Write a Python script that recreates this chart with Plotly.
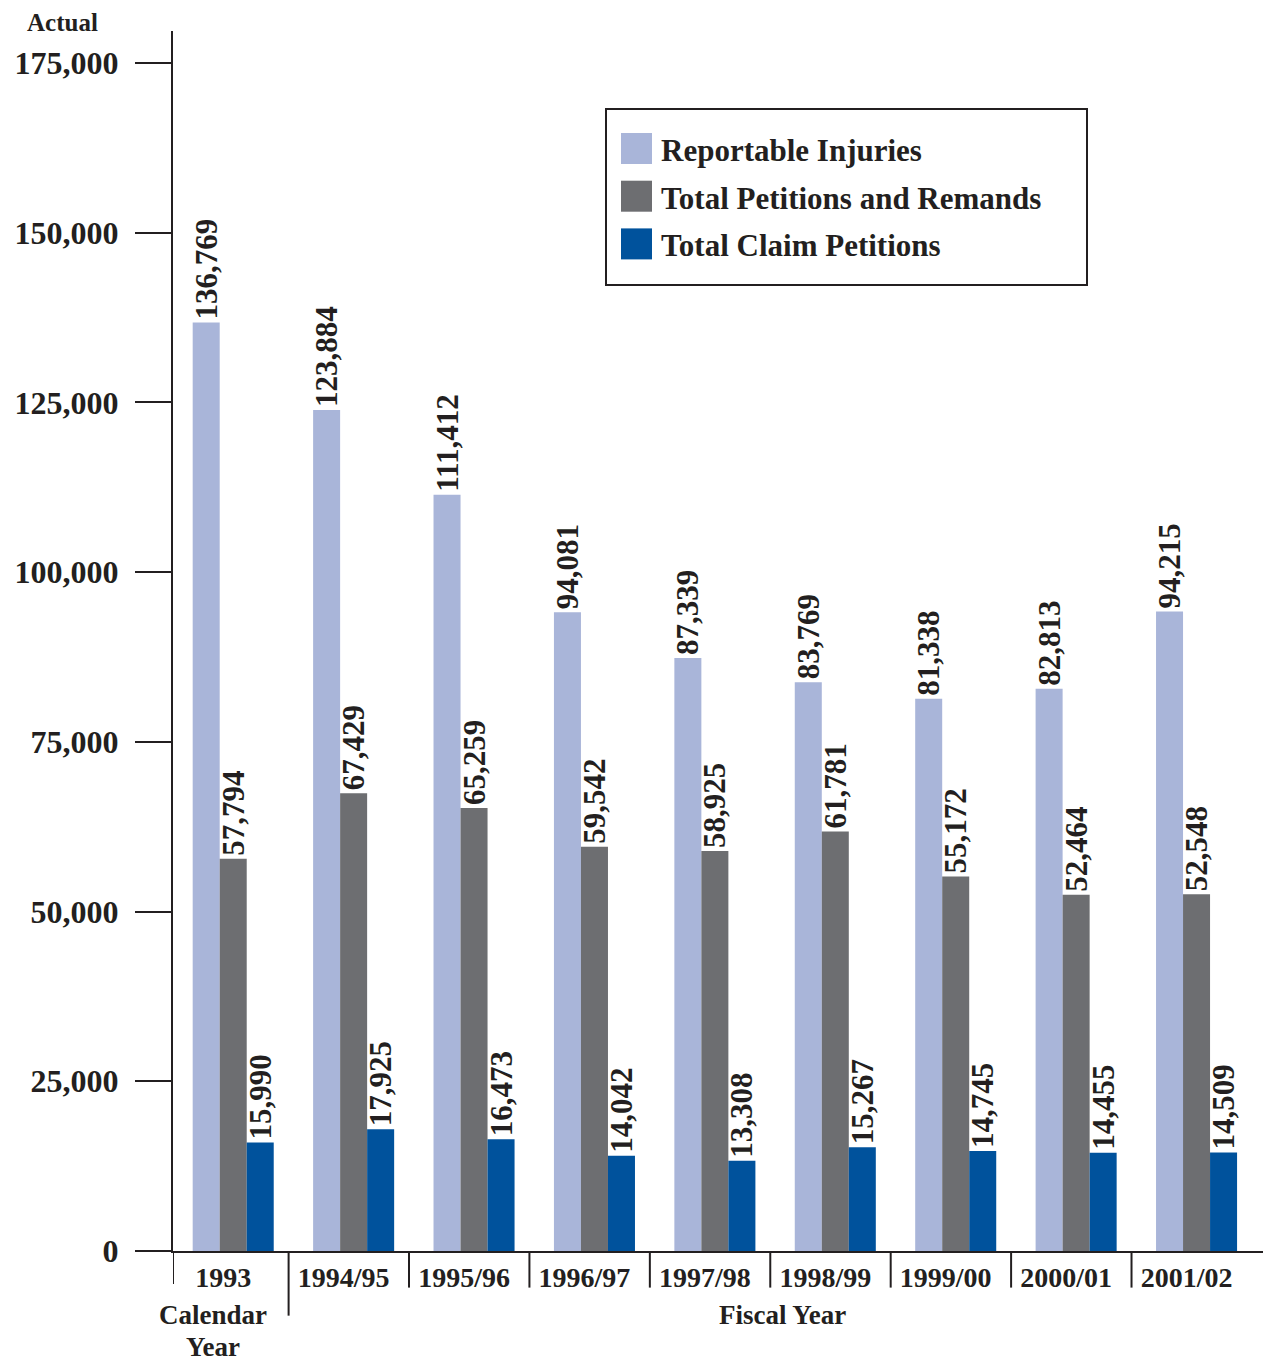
import plotly.graph_objects as go

categories = ["1993", "1994/95", "1995/96", "1996/97", "1997/98", "1998/99", "1999/00", "2000/01", "2001/02"]
series_names = ["Reportable Injuries", "Total Petitions and Remands", "Total Claim Petitions"]
reportable_injuries = [136769, 123884, 111412, 94081, 87339, 83769, 81338, 82813, 94215]
total_petitions_remands = [57794, 67429, 65259, 59542, 58925, 61781, 55172, 52464, 52548]
total_claim_petitions = [15990, 17925, 16473, 14042, 13308, 15267, 14745, 14455, 14509]
y_tick_values = [0, 25000, 50000, 75000, 100000, 125000, 150000, 175000]

colors = ["#A9B5D9", "#6D6E71", "#00529C"]
ink = "#231F20"
FONT = "Liberation Serif"

# the page body adds an 8px offset; layout is expressed so that the plot lands at
# screen x 173..1270, y 31..1251
OFF = 8
W, H = 1271 - OFF, 1362 - OFF
L, T = 173 - OFF, 31 - OFF
PW, PH = 1097, 1220
R = W - L - PW
B = H - T - PH

fig = go.Figure()
for name, vals, col in zip(series_names, [reportable_injuries, total_petitions_remands, total_claim_petitions], colors):
    fig.add_trace(go.Bar(
        x=categories, y=vals, name=name, marker=dict(color=col, line=dict(width=0)),
        text=[f"{v:,}" for v in vals], textposition="outside", textangle=-90,
        constraintext="none", cliponaxis=False,
        textfont=dict(family=FONT, size=31, color=ink, weight="bold"),
        showlegend=False,
    ))

fig.update_layout(
    width=W, height=H,
    margin=dict(l=L, r=R, t=T, b=B, autoexpand=False),
    paper_bgcolor="white", plot_bgcolor="white",
    barmode="group", bargap=0.327, bargroupgap=0,
    font=dict(family=FONT, color=ink, weight="bold"),
    xaxis=dict(
        type="category", range=[-0.5, 8.61], showgrid=False, zeroline=False,
        showline=True, linecolor=ink, linewidth=2, ticks="",
        tickfont=dict(family=FONT, size=28, color=ink, weight="bold"),
        ticklabelshift=-10, ticklabelstandoff=0,
    ),
    yaxis=dict(
        range=[0, 179714], tickvals=y_tick_values, tickformat=",d",
        showgrid=False, zeroline=False, showline=True, linecolor=ink, linewidth=2,
        ticks="outside", ticklen=36, tickwidth=2, tickcolor=ink,
        tickfont=dict(family=FONT, size=32, color=ink, weight="bold"),
        ticklabelstandoff=10,
    ),
)

# separators below the x axis
seps = [(-0.5, -0.027)] + [(k + 0.46, -0.053 if k == 0 else -0.03) for k in range(8)]
for xv, y1 in seps:
    fig.add_shape(type="line", xref="x", yref="paper", x0=xv, x1=xv, y0=0, y1=y1,
                  line=dict(color=ink, width=2))
fig.add_shape(type="line", xref="paper", yref="paper", x0=1, x1=1, y0=0, y1=-0.053,
              line=dict(color=ink, width=2))

def px(xp):
    return (xp - 173) / PW
def py(yp):
    return (1251 - yp) / PH

# axis annotations
fig.add_annotation(text="Actual", xref="paper", yref="paper", x=px(62), y=py(22),
                   showarrow=False, xanchor="center", yanchor="middle",
                   font=dict(family=FONT, size=25, color=ink, weight="bold"))
fig.add_annotation(text="Calendar", xref="paper", yref="paper", x=px(213), y=py(1315),
                   showarrow=False, xanchor="center", yanchor="middle", borderpad=0,
                   font=dict(family=FONT, size=27, color=ink, weight="bold"))
fig.add_annotation(text="Year", xref="paper", yref="paper", x=px(213), y=py(1347),
                   showarrow=False, xanchor="center", yanchor="middle", borderpad=0,
                   font=dict(family=FONT, size=27, color=ink, weight="bold"))
fig.add_annotation(text="Fiscal Year", xref="paper", yref="paper", x=px(782), y=py(1315),
                   showarrow=False, xanchor="center", yanchor="middle", borderpad=0,
                   font=dict(family=FONT, size=27, color=ink, weight="bold"))

# legend box (drawn)
fig.add_shape(type="rect", xref="paper", yref="paper", x0=px(606), x1=px(1087), y0=py(285), y1=py(109),
              line=dict(color=ink, width=2), fillcolor="white", layer="above")
for i, (name, col) in enumerate(zip(series_names, colors)):
    cy = 148.5 + 47.7 * i
    fig.add_shape(type="rect", xref="paper", yref="paper", x0=px(621), x1=px(652),
                  y0=py(cy + 15.5), y1=py(cy - 15.5), line=dict(width=0), fillcolor=col, layer="above")
    fig.add_annotation(text=name, xref="paper", yref="paper", x=px(659), y=py(cy + 2),
                       showarrow=False, xanchor="left", yanchor="middle",
                       font=dict(family=FONT, size=31, color=ink, weight="bold"))

fig.write_html("out.html")
